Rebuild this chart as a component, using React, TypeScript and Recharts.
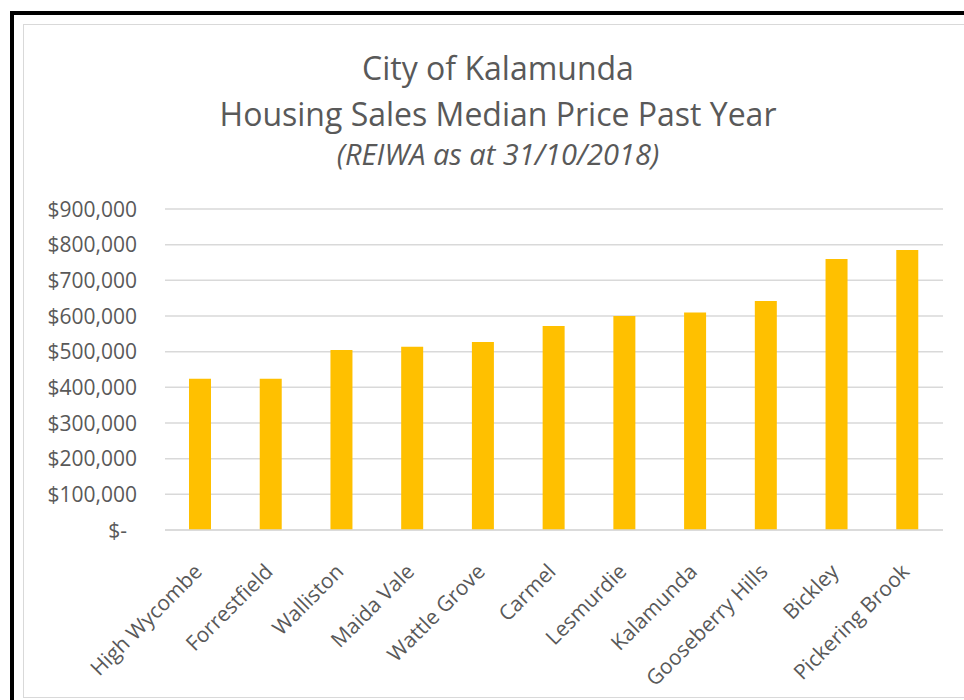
import React from 'react';
import { BarChart, Bar, XAxis, YAxis, CartesianGrid } from 'recharts';

const suburbs = [
  'High Wycombe',
  'Forrestfield',
  'Walliston',
  'Maida Vale',
  'Wattle Grove',
  'Carmel',
  'Lesmurdie',
  'Kalamunda',
  'Gooseberry Hills',
  'Bickley',
  'Pickering Brook',
];

const medianPrice = [424000, 424000, 505000, 514000, 527000, 572000, 600000, 610000, 642000, 760000, 785000];

const priceTicks = [0, 100000, 200000, 300000, 400000, 500000, 600000, 700000, 800000, 900000];

const data = suburbs.map((name, i) => ({ name, price: medianPrice[i] }));

const FONT = '"Open Sans", sans-serif';
const TEXT = '#595959';

const fmtPrice = (v: number) => (v === 0 ? '$-' : '$' + v.toLocaleString('en-US'));

function PriceTick(props: any) {
  const { x, y, payload } = props;
  const shift = payload.value === 0 ? -10 : 0;
  return (
    <text x={x + shift} y={y} dy="0.36em" textAnchor="end" fill={TEXT} fontSize={21} fontFamily={FONT}>
      {fmtPrice(payload.value)}
    </text>
  );
}

function SuburbTick(props: any) {
  const { x, y, payload } = props;
  const tx = x + 3;
  const ty = y + 35;
  return (
    <text
      x={tx}
      y={ty}
      transform={`rotate(-45, ${tx}, ${ty})`}
      textAnchor="end"
      fill={TEXT}
      fontSize={21}
      fontFamily={FONT}
    >
      {payload.value}
    </text>
  );
}

const titleStyle: React.CSSProperties = {
  position: 'absolute',
  left: 0,
  width: 996,
  textAlign: 'center',
  fontFamily: FONT,
  color: TEXT,
  whiteSpace: 'nowrap',
};

export default function App() {
  return (
    <div style={{ position: 'absolute', left: 0, top: 0, width: 964, height: 700, overflow: 'hidden', background: '#fff' }}>
      <div
        style={{
          position: 'absolute',
          left: 10,
          top: 11,
          width: 1000,
          height: 1000,
          borderLeft: '4px solid #000',
          borderTop: '4px solid #000',
        }}
      />
      <div
        style={{
          position: 'absolute',
          left: 23,
          top: 24,
          width: 1000,
          height: 672,
          border: '1px solid #d9d9d9',
        }}
      />
      <div style={{ position: 'absolute', left: 0, top: 0 }}>
        <BarChart
          width={964}
          height={700}
          data={data}
          margin={{ top: 209, right: 21, bottom: 0, left: 0 }}
        >
          <CartesianGrid vertical={false} stroke="#d9d9d9" strokeWidth={1.5} />
          <XAxis
            dataKey="name"
            axisLine={{ stroke: '#d9d9d9', strokeWidth: 1.5 }}
            tickLine={false}
            interval={0}
            tick={<SuburbTick />}
            height={170}
          />
          <YAxis
            width={165}
            domain={[0, 900000]}
            ticks={priceTicks}
            interval={0}
            axisLine={false}
            tickLine={false}
            tickSize={0}
            tickMargin={28}
            tick={<PriceTick />}
          />
          <Bar dataKey="price" fill="#ffc000" barSize={22} isAnimationActive={false} />
        </BarChart>
      </div>
      <div style={{ ...titleStyle, top: 52, fontSize: 32, lineHeight: '32px' }}>City of Kalamunda</div>
      <div style={{ ...titleStyle, top: 98, fontSize: 32, lineHeight: '32px' }}>
        Housing Sales Median Price Past Year
      </div>
      <div style={{ ...titleStyle, top: 139, fontSize: 29, lineHeight: '29px', fontStyle: 'italic' }}>
        (REIWA as at 31/10/2018)
      </div>
    </div>
  );
}
